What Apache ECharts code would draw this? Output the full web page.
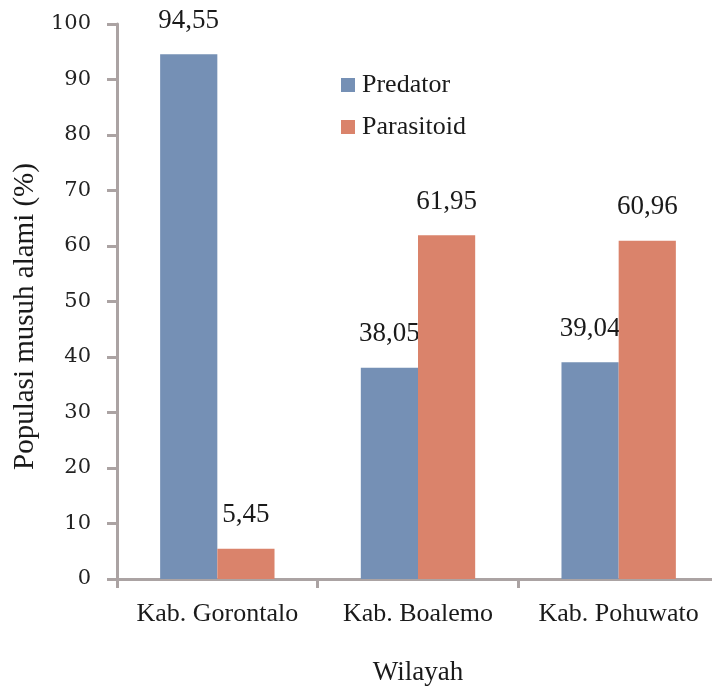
<!DOCTYPE html>
<html>
<head>
<meta charset="utf-8">
<script src="https://cdn.jsdelivr.net/npm/echarts@6/dist/echarts.min.js"></script>
<style>
  html, body { margin: 0; padding: 0; background: #fff; }
  #chart { width: 712px; height: 689px; }
</style>
</head>
<body>
<div id="chart"></div>
<script>
// Regions (x-axis categories)
const wilayah = ['Kab. Gorontalo', 'Kab. Boalemo', 'Kab. Pohuwato'];
// Share of natural enemies per region, in percent
const predator = [94.55, 38.05, 39.04];
const parasitoid = [5.45, 61.95, 60.96];

const serif = '"Liberation Serif", "Times New Roman", serif';
const axisGrey = '#aba3a3';

function fmt(v) {
  return v.toFixed(2).replace('.', ',');
}

const chart = echarts.init(document.getElementById('chart'));
chart.setOption({
  animation: false,
  backgroundColor: '#ffffff',
  grid: { left: 117, top: 24, right: -7, bottom: 110, containLabel: false, outerBoundsMode: 'none' },
  legend: {
    orient: 'vertical',
    left: 336,
    top: 67,
    itemWidth: 14,
    itemHeight: 14,
    itemGap: 16,
    icon: 'rect',
    textStyle: { fontFamily: serif, fontSize: 26, color: '#1a1a1a', padding: [0, 0, 0, 2] },
    data: ['Predator', 'Parasitoid']
  },
  xAxis: {
    type: 'category',
    data: wilayah,
    name: 'Wilayah',
    nameLocation: 'middle',
    nameGap: 80,
    nameTextStyle: { fontFamily: serif, fontSize: 27, color: '#1a1a1a' },
    axisLine: { lineStyle: { color: axisGrey, width: 3 } },
    axisTick: { show: true, length: 9, lineStyle: { color: axisGrey, width: 3 } },
    axisLabel: { interval: 0, fontFamily: serif, fontSize: 26, color: '#1a1a1a', margin: 22 }
  },
  yAxis: {
    type: 'value',
    min: 0,
    max: 100,
    interval: 10,
    name: 'Populasi musuh alami (%)',
    nameLocation: 'middle',
    nameGap: 72,
    nameRotate: 90,
    nameTextStyle: { fontFamily: serif, fontSize: 29, color: '#1a1a1a', padding: [0, 30, 0, 0] },
    splitLine: { show: false },
    axisLine: { show: true, lineStyle: { color: axisGrey, width: 3 } },
    axisTick: { show: true, length: 10, lineStyle: { color: axisGrey, width: 3 } },
    axisLabel: { fontFamily: '"DejaVu Serif", serif', fontSize: 21, color: '#222', margin: 26 }
  },
  series: [
    {
      name: 'Predator',
      type: 'bar',
      z: 2,
      data: predator,
      barGap: '0%',
      barCategoryGap: '43%',
      itemStyle: { color: '#7590b5' },
      label: {
        show: true,
        position: 'top',
        distance: 20,
        fontFamily: serif,
        fontSize: 27,
        color: '#1a1a1a',
        formatter: p => fmt(p.value)
      }
    },
    {
      name: 'Parasitoid',
      type: 'bar',
      z: 3,
      data: parasitoid,
      itemStyle: { color: '#da836b' },
      label: {
        show: true,
        position: 'top',
        distance: 20,
        fontFamily: serif,
        fontSize: 27,
        color: '#1a1a1a',
        formatter: p => fmt(p.value)
      }
    }
  ]
});
</script>
</body>
</html>
